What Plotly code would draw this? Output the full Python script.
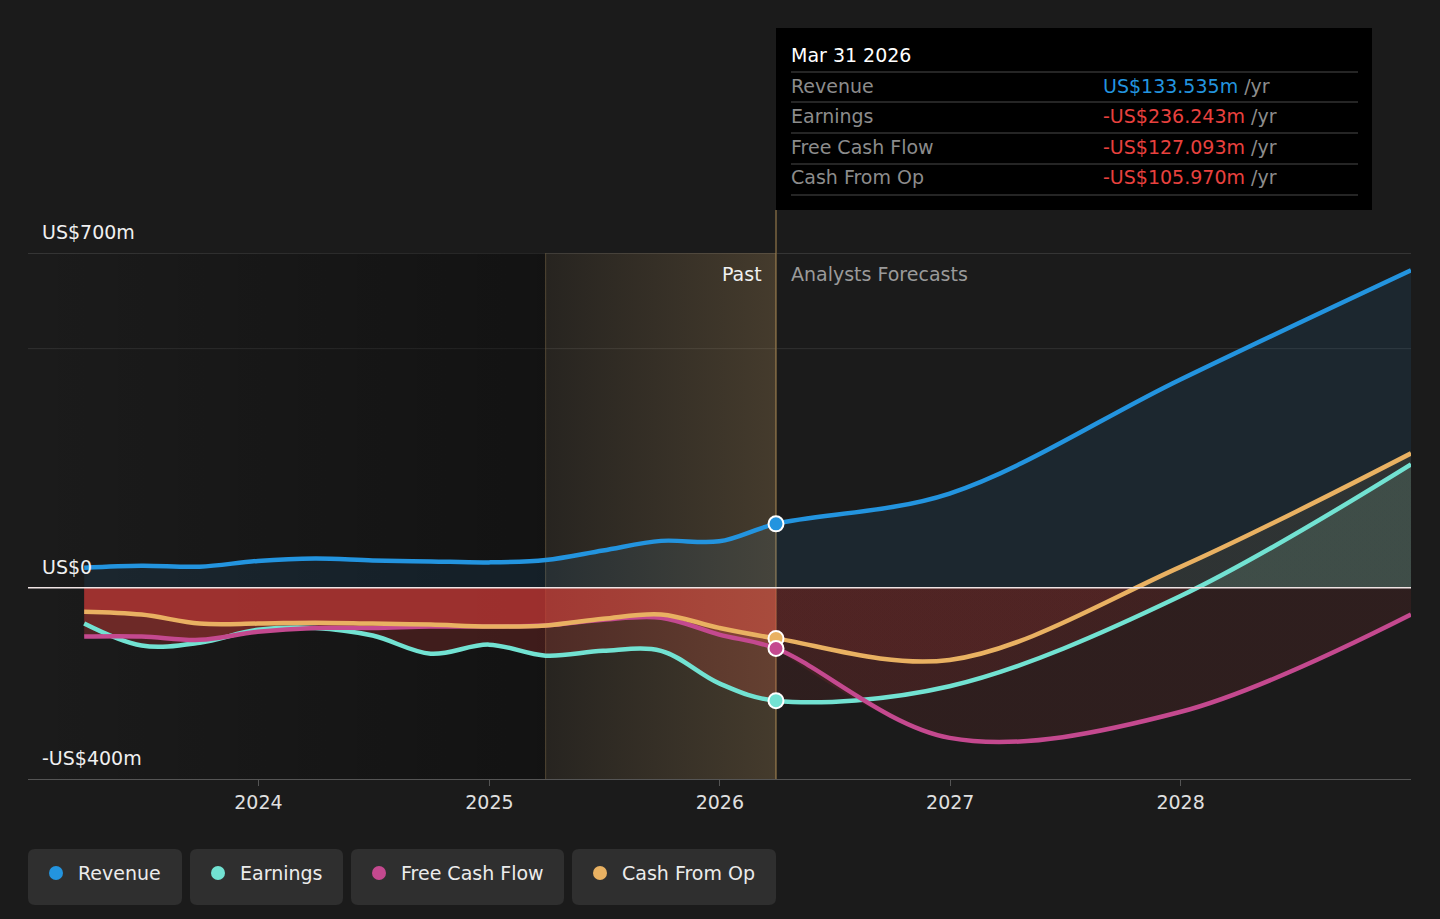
import plotly.graph_objects as go
import pandas as pd

# ---- data (US$ m) ----
past_dates = ["2023-03-31", "2023-06-30", "2023-09-30", "2023-12-31",
              "2024-03-31", "2024-06-30", "2024-09-30", "2024-12-31",
              "2025-03-31", "2025-06-30", "2025-09-30", "2025-12-31",
              "2026-03-31"]
fc_dates = ["2026-12-31", "2027-12-31", "2028-12-31"]

revenue_past = [42, 46, 44, 56, 61, 57, 55, 53, 58, 78, 98, 97, 133.535]
earnings_past = [-75, -121, -115, -88, -84, -100, -138, -119, -142, -132, -132, -200, -236.243]
fcf_past = [-102, -102, -109, -92, -84, -84, -81, -81, -79, -67, -63, -98, -127.093]
cfo_past = [-50, -56, -75, -75, -73, -75, -77, -81, -79, -65, -56, -84, -105.970]

revenue_fc = [197, 435, 664]
earnings_fc = [-206, -18, 258]
fcf_fc = [-314, -260, -56]
cfo_fc = [-151, 43, 281]

series_names = ["Revenue", "Earnings", "Free Cash Flow", "Cash From Op"]
x_tick_years = [2024, 2025, 2026, 2027, 2028]
y_label_vals = [700, 0, -400]
y_label_text = ["US$700m", "US$0", "-US$400m"]

Y_MIN, Y_MAX = -400, 700
X_START, X_END = "2023-01-01", "2028-12-31"
BAND_START = "2025-03-31"
NOW = past_dates[-1]

colors = {
    "Revenue": "#2394df",
    "Earnings": "#72e2d2",
    "Free Cash Flow": "#c4498f",
    "Cash From Op": "#e9b162",
}
RED = "205,58,56"
FONT = "DejaVu Sans"

# figure geometry (pixels)
W, H = 1440, 919
ML, MR, MT, MB = 28, 29, 253, 140


def px(x):
    return (x - ML) / (W - ML - MR)


def py(y):
    return (H - MB - y) / (H - MT - MB)


def date_px(d):
    t0, t1 = pd.Timestamp(X_START), pd.Timestamp(X_END)
    return (pd.Timestamp(d) - t0) / (t1 - t0)


def split_fill(neg, pos):
    z = -Y_MIN / (Y_MAX - Y_MIN)
    return dict(type="vertical", start=Y_MIN, stop=Y_MAX,
                colorscale=[[0, neg], [z, neg], [z, pos], [1, pos]])


def fmt(v):
    sign = "-" if v < 0 else ""
    return f"{sign}US${abs(v):.3f}m"


past = {"Revenue": revenue_past, "Earnings": earnings_past,
        "Free Cash Flow": fcf_past, "Cash From Op": cfo_past}
fc = {"Revenue": revenue_fc, "Earnings": earnings_fc,
      "Free Cash Flow": fcf_fc, "Cash From Op": cfo_fc}
all_dates = past_dates + fc_dates

fig = go.Figure()

# darker past background, fading in towards the band
fig.add_scatter(
    x=[X_START, BAND_START, BAND_START, X_START, X_START],
    y=[Y_MIN, Y_MIN, Y_MAX, Y_MAX, Y_MIN],
    fill="toself", mode="lines", line=dict(width=0),
    fillgradient=dict(type="horizontal",
                      colorscale=[[0, "rgba(0,0,0,0)"], [1, "rgba(0,0,0,0.32)"]]),
    hoverinfo="skip",
)

# revenue area
fig.add_scatter(
    x=all_dates, y=past["Revenue"] + fc["Revenue"],
    fill="tozeroy", mode="lines", line=dict(width=0, shape="spline"),
    fillcolor="rgba(35,148,223,0.10)", hoverinfo="skip",
)

# past areas (strong red)
past_alpha = {"Earnings": 0.24, "Free Cash Flow": 0.30, "Cash From Op": 0.50}
for name in ["Earnings", "Free Cash Flow", "Cash From Op"]:
    fig.add_scatter(
        x=past_dates, y=past[name],
        fill="tozeroy", mode="lines", line=dict(width=0, shape="spline"),
        fillcolor=f"rgba({RED},{past_alpha[name]})", hoverinfo="skip",
    )

# forecast areas (faint red below zero, series tint above)
pos_tint = {"Earnings": "rgba(140,215,185,0.16)",
            "Free Cash Flow": "rgba(196,73,143,0.10)",
            "Cash From Op": "rgba(233,177,98,0.09)"}
for name in ["Earnings", "Free Cash Flow", "Cash From Op"]:
    fig.add_scatter(
        x=[NOW] + fc_dates, y=[past[name][-1]] + fc[name],
        fill="tozeroy", mode="lines", line=dict(width=0, shape="spline"),
        fillgradient=split_fill(f"rgba({RED},0.11)", pos_tint[name]),
        hoverinfo="skip",
    )

# highlighted last-year band
fig.add_scatter(
    x=[BAND_START, NOW, NOW, BAND_START, BAND_START],
    y=[Y_MIN, Y_MIN, Y_MAX, Y_MAX, Y_MIN],
    fill="toself", mode="lines", line=dict(width=0),
    fillgradient=dict(type="horizontal",
                      colorscale=[[0, "rgba(200,160,100,0.07)"],
                                  [1, "rgba(200,160,100,0.24)"]]),
    hoverinfo="skip",
)

# lines
for name in series_names:
    fig.add_scatter(
        x=all_dates, y=past[name] + fc[name], mode="lines",
        line=dict(color=colors[name], width=4.5, shape="spline"),
        hoverinfo="skip",
    )

# current markers
marker_order = ["Revenue", "Earnings", "Cash From Op", "Free Cash Flow"]
fig.add_scatter(
    x=[NOW] * 4, y=[past[n][-1] for n in marker_order],
    mode="markers",
    marker=dict(size=15, color=[colors[n] for n in marker_order],
                line=dict(color="white", width=2)),
    hoverinfo="skip",
)

shapes = []
# gridlines
shapes.append(dict(type="line", xref="paper", yref="y", x0=0, x1=1, y0=700, y1=700,
                   line=dict(color="#505050", width=1), layer="below"))
shapes.append(dict(type="line", xref="paper", yref="y", x0=0, x1=1, y0=500, y1=500,
                   line=dict(color="#303030", width=1), layer="below"))
shapes.append(dict(type="line", xref="paper", yref="y", x0=0, x1=1, y0=0, y1=0,
                   line=dict(color="#f0e4e4", width=1.5), layer="above"))
# band edges / hover line
shapes.append(dict(type="line", xref="paper", yref="paper",
                   x0=date_px(BAND_START), x1=date_px(BAND_START), y0=0, y1=1,
                   line=dict(color="rgba(120,102,72,0.7)", width=1), layer="below"))
shapes.append(dict(type="line", xref="paper", yref="paper",
                   x0=date_px(NOW), x1=date_px(NOW), y0=0, y1=py(210),
                   line=dict(color="#7a6440", width=1.5), layer="below"))

# tooltip box
shapes.append(dict(type="rect", xref="paper", yref="paper",
                   x0=px(776), x1=px(1372), y0=py(210), y1=py(28),
                   fillcolor="#000000", line=dict(width=0), layer="above"))
for yy in [72, 102, 133, 164, 195]:
    shapes.append(dict(type="line", xref="paper", yref="paper",
                       x0=px(791), x1=px(1358), y0=py(yy), y1=py(yy),
                       line=dict(color="#4a4a4a", width=1), layer="above"))

annotations = []
annotations.append(dict(x=px(789), y=py(55), xref="paper", yref="paper",
                        text=pd.Timestamp(NOW).strftime("%b %d %Y"), showarrow=False,
                        xanchor="left", yanchor="middle",
                        font=dict(size=19, color="#ffffff", family=FONT)))
for name, yy in zip(series_names, [86, 116, 147, 177]):
    v = past[name][-1]
    vc = colors["Revenue"] if v >= 0 else "#e8413e"
    annotations.append(dict(x=px(789), y=py(yy), xref="paper", yref="paper",
                            text=name, showarrow=False, xanchor="left", yanchor="middle",
                            font=dict(size=19, color="#8c8c8c", family=FONT)))
    annotations.append(dict(x=px(1101), y=py(yy), xref="paper", yref="paper",
                            text=f"<span style='color:{vc}'>{fmt(v)}</span> /yr",
                            showarrow=False, xanchor="left", yanchor="middle",
                            font=dict(size=19, color="#8c8c8c", family=FONT)))

# y labels above their lines
for val, txt in zip(y_label_vals, y_label_text):
    annotations.append(dict(x=px(40), y=val, xref="paper", yref="y", text=txt,
                            showarrow=False, xanchor="left", yanchor="middle", yshift=21,
                            font=dict(size=19, color="#f0f0f0", family=FONT)))

# Past / forecast labels
annotations.append(dict(x=NOW, y=Y_MAX, xref="x", yref="y", text="Past", showarrow=False,
                        xanchor="right", yanchor="middle", xshift=-12, yshift=-21,
                        font=dict(size=19, color="#f0f0f0", family=FONT)))
annotations.append(dict(x=NOW, y=Y_MAX, xref="x", yref="y", text="Analysts Forecasts",
                        showarrow=False, xanchor="left", yanchor="middle", xshift=13, yshift=-21,
                        font=dict(size=19, color="#9a9a9a", family=FONT)))

# legend buttons
legend_boxes = [(28, 182), (190, 343), (351, 564), (572, 776)]
by0, by1, r = 849, 905, 7
for name, (bx0, bx1) in zip(series_names, legend_boxes):
    x0, x1, y0, y1 = px(bx0), px(bx1), py(by1), py(by0)
    rx, ry = r / (W - ML - MR), r / (H - MT - MB)
    path = (f"M {x0+rx},{y0} L {x1-rx},{y0} Q {x1},{y0} {x1},{y0+ry} "
            f"L {x1},{y1-ry} Q {x1},{y1} {x1-rx},{y1} L {x0+rx},{y1} "
            f"Q {x0},{y1} {x0},{y1-ry} L {x0},{y0+ry} Q {x0},{y0} {x0+rx},{y0} Z")
    shapes.append(dict(type="path", xref="paper", yref="paper", path=path,
                       fillcolor="#2f2f2f", line=dict(width=0), layer="above"))
    cx, cy = bx0 + 28, 873
    shapes.append(dict(type="circle", xref="paper", yref="paper",
                       x0=px(cx - 7), x1=px(cx + 7), y0=py(cy + 7), y1=py(cy - 7),
                       fillcolor=colors[name], line=dict(width=0), layer="above"))
    annotations.append(dict(x=px(cx + 20), y=py(cy), xref="paper", yref="paper",
                            text=name, showarrow=False, xanchor="left", yanchor="middle",
                            font=dict(size=19, color="#ececec", family=FONT)))

fig.update_layout(
    width=W, height=H,
    margin=dict(l=ML, r=MR, t=MT, b=MB, pad=0),
    paper_bgcolor="#1b1b1b",
    plot_bgcolor="#1b1b1b",
    showlegend=False,
    hovermode=False,
    font=dict(family=FONT, size=19, color="#e6e6e6"),
    shapes=shapes,
    annotations=annotations,
    xaxis=dict(
        type="date",
        range=[X_START, X_END],
        tickvals=[f"{y}-01-01" for y in x_tick_years],
        ticktext=[str(y) for y in x_tick_years],
        showgrid=False, zeroline=False,
        showline=True, linecolor="#555555", linewidth=1,
        ticks="outside", ticklen=6, tickcolor="#555555",
        tickfont=dict(size=19, color="#e0e0e0", family=FONT),
        fixedrange=True,
    ),
    yaxis=dict(
        range=[Y_MIN, Y_MAX],
        showgrid=False, zeroline=False, showticklabels=False, showline=False,
        fixedrange=True,
    ),
)

fig.write_html("out.html", config={"displayModeBar": False},
               post_script="document.body.style.margin='0';")
